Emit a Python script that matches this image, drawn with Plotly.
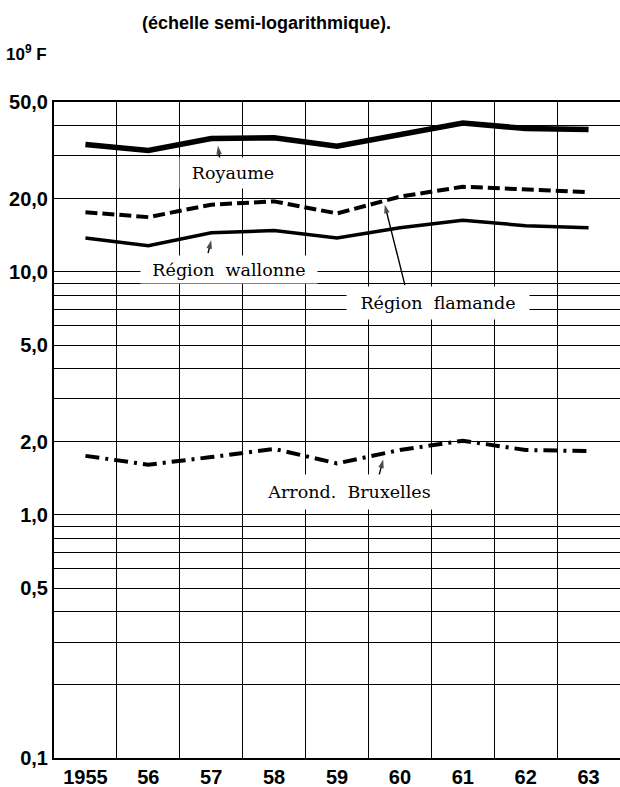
import numpy as np
import plotly.graph_objects as go

# ---- data ----
years = [1955, 1956, 1957, 1958, 1959, 1960, 1961, 1962, 1963]
year_labels = ["1955", "56", "57", "58", "59", "60", "61", "62", "63"]
royaume = [33.4, 31.6, 35.4, 35.6, 32.9, 36.8, 41.0, 38.9, 38.5]
flamande = [17.6, 16.8, 18.9, 19.5, 17.4, 20.4, 22.4, 21.8, 21.3]
wallonne = [13.8, 12.8, 14.5, 14.8, 13.8, 15.2, 16.3, 15.5, 15.2]
bruxelles = [1.75, 1.61, 1.73, 1.87, 1.63, 1.85, 2.02, 1.85, 1.83]

y_major_vals = [0.1, 0.5, 1, 2, 5, 10, 20, 50]
y_major_text = ["0,1", "0,5", "1,0", "2,0", "5,0", "10,0", "20,0", "50,0"]
y_minor_vals = [0.2, 0.3, 0.4, 0.6, 0.7, 0.8, 0.9, 3, 4, 6, 7, 8, 9, 30, 40]
x_grid_vals = [1955.5, 1956.5, 1957.5, 1958.5, 1959.5, 1960.5, 1961.5, 1962.5]

fig = go.Figure()

fig.add_trace(go.Scatter(x=years, y=royaume, mode="lines",
                         line=dict(color="black", width=5.5), showlegend=False))
fig.add_trace(go.Scatter(x=years, y=flamande, mode="lines",
                         line=dict(color="black", width=4, dash="12px,5px"), showlegend=False))
fig.add_trace(go.Scatter(x=years, y=wallonne, mode="lines",
                         line=dict(color="black", width=3.5), showlegend=False))
fig.add_trace(go.Scatter(x=years, y=bruxelles, mode="lines",
                         line=dict(color="black", width=4, dash="14px,6px,3px,6px"), showlegend=False))

# pointer arrows (tail -> head), drawn as small line + arrow marker
arrows = [
    (1957.14, 28.6, 1957.107, 33.0),
    (1956.95, 11.94, 1957.0, 13.5),
    (1960.08, 8.82, 1959.76, 18.9),
    (1959.67, 1.461, 1959.735, 1.69),
]
for tx, ty, hx, hy in arrows:
    fig.add_trace(go.Scatter(x=[tx, hx], y=[ty, hy], mode="lines+markers",
                             line=dict(color="black", width=1.4),
                             marker=dict(symbol="arrow", size=[0, 9], angleref="previous",
                                         color="black", line=dict(width=0)),
                             showlegend=False, hoverinfo="skip"))

serif = dict(family="DejaVu Serif", size=17.5, color="black")
L = np.log10

labels = [
    ("Royaume", 1957.35, 25.5, 106, 30),
    ("Région&nbsp; wallonne", 1957.28, 10.27, 176, 27),
    ("Région&nbsp; flamande", 1960.6, 7.44, 182, 32),
    ("Arrond.&nbsp; Bruxelles", 1959.19, 1.247, 178, 34),
]
for txt, x, y, w, h in labels:
    fig.add_annotation(x=x, y=L(y), xref="x", yref="y", text=txt, showarrow=False,
                       font=serif, bgcolor="white", width=w, height=h,
                       align="center", valign="middle", borderpad=0)

fig.add_annotation(x=0.376, y=1.121, xref="paper", yref="paper",
                   xanchor="center", yanchor="middle",
                   text="(échelle semi-logarithmique).", showarrow=False,
                   font=dict(family="Liberation Sans", size=18, color="black", weight="bold"))
fig.add_annotation(x=-0.009, y=1.074, xref="paper", yref="paper",
                   xanchor="right", yanchor="middle",
                   text="10<sup>9</sup> F", showarrow=False,
                   font=dict(family="Liberation Sans", size=17, color="black", weight="bold"))

tickfont = dict(family="Liberation Sans", size=20, color="black", weight="bold")

fig.update_layout(
    width=620, height=787,
    margin=dict(l=54, r=0, t=102, b=29),
    paper_bgcolor="white", plot_bgcolor="white",
    xaxis=dict(range=[1954.5, 1963.5], tickmode="array", tickvals=years, ticktext=year_labels,
               showgrid=False, zeroline=False, ticks="", tickfont=tickfont,
               showline=True, linecolor="black", linewidth=2, mirror=True,
               minor=dict(tickmode="array", tickvals=x_grid_vals, showgrid=True,
                          gridcolor="black", gridwidth=1.4, ticks="")),
    yaxis=dict(type="log", range=[-1, np.log10(50)], tickmode="array",
               tickvals=y_major_vals, ticktext=y_major_text, showgrid=True,
               gridcolor="black", gridwidth=1.3, zeroline=False, ticks="", tickfont=tickfont,
               showline=True, linecolor="black", linewidth=2, mirror=False,
               minor=dict(tickmode="array", tickvals=y_minor_vals, showgrid=True,
                          gridcolor="black", gridwidth=1.2, ticks="")),
)

fig.write_html("out.html")
